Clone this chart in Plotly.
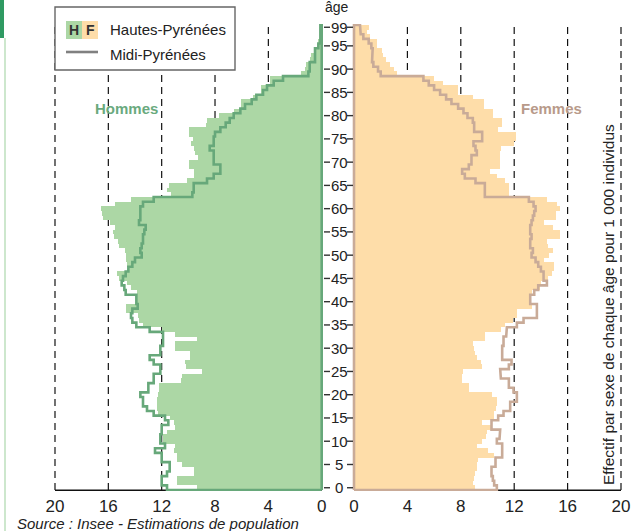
import plotly.graph_objects as go

W, H = 637, 531

ages = list(range(100))
age_ticks = [0, 5, 10, 15, 20, 25, 30, 35, 40, 45, 50, 55, 60, 65, 70, 75, 80, 85, 90, 95, 99]
x_ticks = [0, 4, 8, 12, 16, 20]

# Hautes-Pyrénées, hommes (effectif pour 1 000 individus), âge 0..99
hp_hommes = [9.4, 10.9, 10.9, 9.6, 9.6, 10.5, 10.9, 10.9, 11.1, 11.0,
             11.9, 11.9, 11.6, 11.0, 11.1, 11.4, 12.3, 12.4, 12.4, 12.4,
             12.3, 12.2, 12.2, 10.6, 10.5, 9.0, 10.2, 10.3, 9.9, 9.9,
             11.0, 11.0, 9.4, 11.0, 12.0, 13.4, 13.7, 13.8, 14.7, 14.7,
             13.9, 13.9, 13.9, 14.3, 14.6, 15.2, 15.4, 14.5, 14.6, 14.7,
             14.7, 14.8, 15.2, 15.3, 15.6, 15.7, 15.5, 15.9, 16.4, 16.5,
             16.6, 15.5, 14.3, 11.3, 11.6, 11.5, 10.1, 9.6, 9.6, 10.0,
             10.0, 9.3, 9.5, 9.6, 9.8, 9.7, 10.0, 10.0, 8.7, 8.6,
             7.7, 6.6, 6.1, 6.1, 5.2, 4.6, 4.6, 3.9, 3.9, 1.6,
             1.3, 1.2, 0.9, 0.8, 0.6, 0.4, 0.3, 0.15, 0.1, 0.1]

# Midi-Pyrénées, hommes
mp_hommes = [11.6, 12.0, 12.0, 11.6, 11.4, 11.4, 12.0, 12.0, 12.5, 11.75,
             12.1, 12.1, 12.0, 12.0, 11.5, 11.75, 12.6, 13.1, 13.4, 13.4,
             13.6, 13.0, 13.0, 12.6, 12.6, 12.1, 12.1, 12.6, 12.9, 12.1,
             12.1, 11.9, 11.9, 11.9, 12.9, 13.9, 14.2, 14.3, 14.2, 13.8,
             13.9, 13.9, 14.7, 14.8, 15.0, 14.9, 14.7, 14.5, 14.2, 14.0,
             13.5, 13.6, 13.5, 13.4, 13.4, 13.3, 13.2, 13.7, 13.6, 13.6,
             13.6, 13.4, 12.6, 9.7, 9.6, 9.6, 8.6, 8.1, 7.6, 7.6,
             8.1, 8.1, 8.1, 8.4, 8.1, 8.1, 8.0, 7.6, 7.2, 6.9,
             6.6, 6.1, 5.75, 5.25, 4.9, 4.4, 4.1, 3.6, 2.9, 1.0,
             0.9, 0.9, 0.5, 0.5, 0.5, 0.25, 0.1, 0.1, 0.1, 0.1]

# Hautes-Pyrénées, femmes
hp_femmes = [9.1, 8.95, 9.0, 9.1, 9.2, 9.2, 9.3, 10.45, 10.0, 9.2,
             9.6, 9.9, 9.95, 10.3, 9.6, 10.45, 10.5, 10.6, 10.7, 10.7,
             10.3, 8.6, 8.6, 8.1, 8.1, 8.2, 9.6, 9.5, 9.2, 9.1,
             9.0, 8.95, 9.8, 9.8, 11.0, 11.3, 11.9, 12.2, 12.2, 13.3,
             13.2, 13.2, 13.3, 13.9, 14.0, 14.5, 14.8, 15.0, 15.0, 14.2,
             14.6, 14.9, 14.5, 14.45, 15.4, 15.45, 14.9, 14.2, 15.1, 15.1,
             15.45, 15.2, 14.45, 11.6, 11.6, 11.6, 11.3, 10.7, 10.2, 10.9,
             10.95, 10.95, 10.95, 11.0, 11.95, 12.1, 12.1, 10.8, 11.1, 11.1,
             10.4, 10.4, 9.7, 9.7, 8.9, 7.8, 7.8, 6.7, 6.0, 3.2,
             3.0, 2.7, 2.4, 2.2, 2.1, 1.7, 1.7, 1.2, 1.0, 1.1]

# Midi-Pyrénées, femmes
mp_femmes = [10.7, 10.5, 10.4, 10.3, 10.3, 10.6, 10.6, 11.1, 11.1, 11.1,
             10.7, 10.9, 10.95, 10.3, 10.3, 10.8, 11.2, 11.7, 11.7, 12.2,
             12.2, 11.95, 11.6, 11.6, 11.0, 10.95, 11.6, 11.8, 11.1, 11.1,
             11.1, 11.2, 11.2, 11.4, 11.45, 12.2, 12.7, 13.7, 13.7, 13.7,
             13.2, 13.2, 13.5, 13.8, 14.45, 14.2, 14.2, 14.0, 13.8, 13.6,
             13.3, 13.4, 13.2, 13.2, 13.3, 13.2, 13.2, 13.3, 13.4, 13.5,
             13.6, 13.45, 13.1, 9.8, 9.8, 9.8, 9.1, 8.3, 8.1, 8.6,
             8.8, 8.8, 9.2, 9.1, 8.95, 9.6, 9.6, 9.0, 9.0, 8.9,
             8.5, 8.2, 7.8, 7.3, 6.9, 6.45, 6.0, 5.6, 5.2, 2.0,
             1.8, 1.45, 1.35, 1.4, 1.4, 1.3, 1.1, 0.7, 0.5, 0.45]

C_H_BAR = "#acd7a5"
C_H_LINE = "#67a87a"
C_F_BAR = "#fedda9"
C_F_LINE = "#c9ab98"
FONT = "Liberation Sans, Arial, sans-serif"


def px(x):
    return x / W


def py(y):
    return 1 - y / H


def outline(vals, yvals):
    xs, ys = [0], [yvals[0] - 0.5]
    for v, a in zip(vals, yvals):
        xs += [v, v]
        ys += [a - 0.5, a + 0.5]
    xs += [0, 0]
    ys += [yvals[-1] + 0.5, yvals[0] - 0.5]
    return xs, ys


fig = go.Figure()
fig.add_trace(go.Bar(x=hp_hommes, y=ages, orientation="h", width=1,
                     marker=dict(color=C_H_BAR, line=dict(width=0)),
                     xaxis="x", yaxis="y", hoverinfo="skip"))
fig.add_trace(go.Bar(x=hp_femmes, y=ages, orientation="h", width=1,
                     marker=dict(color=C_F_BAR, line=dict(width=0)),
                     xaxis="x2", yaxis="y", hoverinfo="skip"))
hx, hy = outline(mp_hommes, ages)
fig.add_trace(go.Scatter(x=hx, y=hy, mode="lines", line=dict(color=C_H_LINE, width=2.6),
                         xaxis="x", yaxis="y", hoverinfo="skip"))
fx, fy = outline(mp_femmes, ages)
fig.add_trace(go.Scatter(x=fx, y=fy, mode="lines", line=dict(color=C_F_LINE, width=2.6),
                         xaxis="x2", yaxis="y", hoverinfo="skip"))

ppu = 13.33
ypb, ypt = 491.0, 24.0
ax_common = dict(showgrid=False, zeroline=False, showline=False, ticks="",
                 tickvals=x_ticks, tickfont=dict(family=FONT, size=17, color="#222"),
                 ticklabelstandoff=3, fixedrange=True)
fig.update_layout(
    width=W, height=H, margin=dict(l=0, r=0, t=0, b=0, autoexpand=False),
    paper_bgcolor="white", plot_bgcolor="white", showlegend=False, bargap=0,
    xaxis=dict(domain=[px(55 - 0.1 * ppu), px(321.7 + 0.15 * ppu)], range=[20.1, -0.15],
               anchor="y", **ax_common),
    xaxis2=dict(domain=[px(354 - 0.15 * ppu), px(621 + 0.1 * ppu)], range=[-0.15, 20.1],
                anchor="y", **ax_common),
    yaxis=dict(domain=[py(ypb), py(ypt)], range=[-0.7, 99.7], anchor="x",
               showgrid=False, zeroline=False, showticklabels=False, ticks="",
               fixedrange=True),
)

shapes = []
for v in x_ticks[1:]:
    for xr in ("x", "x2"):
        shapes.append(dict(type="line", xref=xr, yref="y", x0=v, x1=v, y0=-0.5, y1=99.5,
                           line=dict(color="#111", width=1.2, dash="7px,5px"), layer="below"))
for xr in ("x", "x2"):
    shapes.append(dict(type="line", xref=xr, yref="y", x0=0, x1=20, y0=-0.55, y1=-0.55,
                       line=dict(color="#111", width=1.6), layer="below"))
for a in age_ticks:
    for x0, x1 in ((324, 330), (347, 353)):
        shapes.append(dict(type="line", xref="paper", yref="y", x0=px(x0), x1=px(x1), y0=a, y1=a,
                           line=dict(color="#333", width=1.4)))
# legend box
shapes.append(dict(type="rect", xref="paper", yref="paper", x0=px(55), x1=px(235), y0=py(70), y1=py(7),
                   fillcolor="white", line=dict(color="#666", width=1.4), layer="above"))
shapes.append(dict(type="rect", xref="paper", yref="paper", x0=px(66), x1=px(82), y0=py(39), y1=py(21),
                   fillcolor=C_H_BAR, line=dict(width=0), layer="above"))
shapes.append(dict(type="rect", xref="paper", yref="paper", x0=px(82), x1=px(98), y0=py(39), y1=py(21),
                   fillcolor=C_F_BAR, line=dict(width=0), layer="above"))
shapes.append(dict(type="line", xref="paper", yref="paper", x0=px(66), x1=px(98), y0=py(52), y1=py(52),
                   line=dict(color="#808080", width=2.6), layer="above"))
# left page decorations
shapes.append(dict(type="rect", xref="paper", yref="paper", x0=0, x1=px(4), y0=py(38), y1=1,
                   fillcolor="#2f9a62", line=dict(width=0)))
shapes.append(dict(type="rect", xref="paper", yref="paper", x0=px(4), x1=px(6), y0=0, y1=py(38),
                   fillcolor="#cde7cd", line=dict(width=0)))
fig.update_layout(shapes=shapes)

ann = []
for a in age_ticks:
    ann.append(dict(xref="paper", yref="y", x=px(339), y=a, text=str(a), showarrow=False,
                    xanchor="center", yanchor="middle", font=dict(family=FONT, size=15, color="#222")))
ann.append(dict(xref="paper", yref="paper", x=px(337), y=py(7), text="âge", showarrow=False,
                xanchor="center", yanchor="middle", font=dict(family=FONT, size=14, color="#222")))
ann.append(dict(xref="paper", yref="paper", x=px(126), y=py(108), text="<b>Hommes</b>", showarrow=False,
                xanchor="center", yanchor="middle", font=dict(family=FONT, size=15, color="#6aaa7e")))
ann.append(dict(xref="paper", yref="paper", x=px(551), y=py(108), text="<b>Femmes</b>", showarrow=False,
                xanchor="center", yanchor="middle", font=dict(family=FONT, size=15, color="#b89a8a")))
ann.append(dict(xref="paper", yref="paper", x=px(608), y=py(305),
                text="Effectif par sexe de chaque âge pour 1 000 individus", textangle=-90,
                showarrow=False, xanchor="center", yanchor="middle",
                font=dict(family=FONT, size=15.5, color="#222")))
ann.append(dict(xref="paper", yref="paper", x=px(15), y=py(531), yshift=-3,
                text="<i>Source : Insee - Estimations de population</i>", showarrow=False,
                xanchor="left", yanchor="bottom", font=dict(family=FONT, size=15, color="#222")))
ann.append(dict(xref="paper", yref="paper", x=px(108), y=py(29), text="Hautes-Pyrénées", showarrow=False,
                xanchor="left", yanchor="middle", font=dict(family=FONT, size=15, color="#222")))
ann.append(dict(xref="paper", yref="paper", x=px(108), y=py(55), text="Midi-Pyrénées", showarrow=False,
                xanchor="left", yanchor="middle", font=dict(family=FONT, size=15, color="#222")))
ann.append(dict(xref="paper", yref="paper", x=px(74), y=py(30), text="<b>H</b>", showarrow=False,
                xanchor="center", yanchor="middle", font=dict(family=FONT, size=14, color="#333")))
ann.append(dict(xref="paper", yref="paper", x=px(90), y=py(30), text="<b>F</b>", showarrow=False,
                xanchor="center", yanchor="middle", font=dict(family=FONT, size=14, color="#333")))
fig.update_layout(annotations=ann)

fig.write_html("out.html", config={"displayModeBar": False},
               post_script="document.body.style.margin='0px';document.body.style.overflow='hidden';")
